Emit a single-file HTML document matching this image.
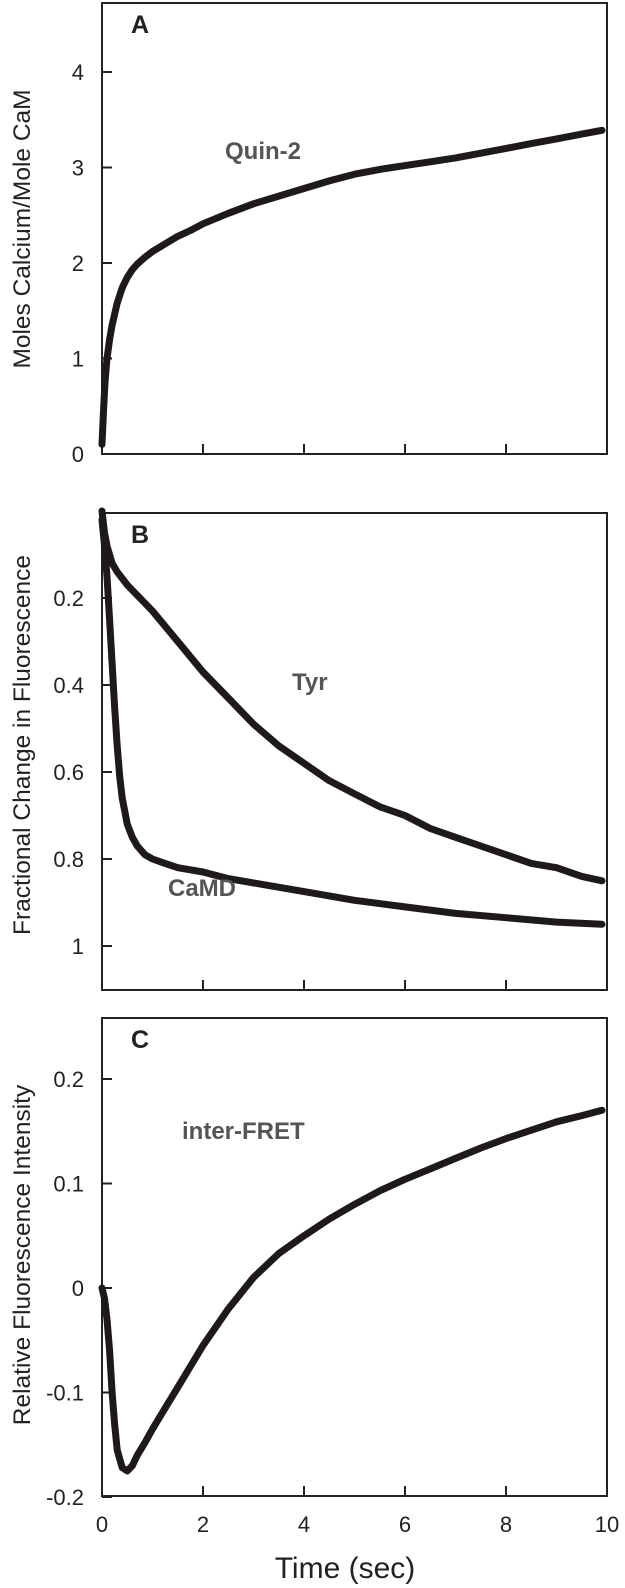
<!DOCTYPE html>
<html><head><meta charset="utf-8"><style>
body{margin:0;background:#fff}
svg{display:block;font-family:"Liberation Sans",Arial,sans-serif}
</style></head><body>
<svg id="fig" width="625" height="1588"></svg>
<script>
const xTicks=[0,2,4,6,8,10];
const xTickLabels=["0","2","4","6","8","10"];
const timeA=[0,0.03,0.06,0.1,0.15,0.2,0.3,0.4,0.5,0.6,0.7,0.85,1,1.25,1.5,1.75,2,2.5,3,3.5,4,4.5,5,5.5,6,6.5,7,7.5,8,8.5,9,9.5,9.9];
const quin2=[0.1,0.45,0.75,1.0,1.2,1.35,1.58,1.74,1.85,1.93,1.99,2.06,2.12,2.2,2.28,2.34,2.41,2.52,2.62,2.7,2.78,2.86,2.93,2.98,3.02,3.06,3.1,3.15,3.2,3.25,3.3,3.35,3.39];
const yTicksA=[0,1,2,3,4];
const timeB=[0,0.05,0.1,0.2,0.3,0.5,0.75,1,1.5,2,2.5,3,3.5,4,4.5,5,5.5,6,6.5,7,7.5,8,8.5,9,9.5,9.9];
const tyr=[0.0,0.05,0.08,0.12,0.14,0.17,0.2,0.23,0.3,0.37,0.43,0.49,0.54,0.58,0.62,0.65,0.68,0.7,0.73,0.75,0.77,0.79,0.81,0.82,0.84,0.85];
const timeCaMD=[0,0.05,0.1,0.15,0.2,0.25,0.3,0.35,0.4,0.5,0.6,0.7,0.85,1,1.25,1.5,2,2.5,3,4,5,6,7,8,9,9.9];
const camd=[0.02,0.08,0.15,0.25,0.35,0.45,0.54,0.61,0.66,0.72,0.75,0.77,0.79,0.8,0.81,0.82,0.83,0.845,0.855,0.875,0.895,0.91,0.925,0.935,0.945,0.95];
const yTicksB=[0.2,0.4,0.6,0.8,1];
const yTickLabelsB=["0.2","0.4","0.6","0.8","1"];
const timeC=[0,0.05,0.1,0.15,0.2,0.25,0.3,0.4,0.5,0.6,0.7,0.85,1,1.25,1.5,2,2.5,3,3.5,4,4.5,5,5.5,6,6.5,7,7.5,8,8.5,9,9.5,9.9];
const fret=[0,-0.01,-0.03,-0.06,-0.1,-0.13,-0.155,-0.172,-0.175,-0.17,-0.16,-0.148,-0.135,-0.115,-0.095,-0.055,-0.02,0.01,0.033,0.05,0.066,0.08,0.093,0.104,0.114,0.124,0.134,0.143,0.151,0.159,0.165,0.17];
const yTicksC=[-0.2,-0.1,0,0.1,0.2];
const yTickLabelsC=["-0.2","-0.1","0","0.1","0.2"];

const NS="http://www.w3.org/2000/svg";
const svg=document.getElementById('fig');
function mk(tag,attrs,parent){const e=document.createElementNS(NS,tag);for(const k in attrs)e.setAttribute(k,attrs[k]);(parent||svg).appendChild(e);return e;}
const X0=102,X1=607;
const xs=t=>X0+(t/10)*(X1-X0);

function panel(id,top,bottom,yFn,yTicks,yLabels,title,titleY,letter){
  const g=mk('g',{});
  
  
  const r=mk('rect',{x:X0,y:top,width:X1-X0,height:bottom-top,fill:'none',stroke:'#222','stroke-width':2},g);
  
  
  xTicks.forEach((t,i)=>{
    if(i===0||i===xTicks.length-1)return;
    const l=mk('line',{x1:xs(t),x2:xs(t),y1:bottom,y2:bottom-10,stroke:'#222','stroke-width':2},g);
    
    
  });
  yTicks.forEach((v,i)=>{
    const y=yFn(v);
    const l=mk('line',{x1:X0,x2:X0+10,y1:y,y2:y,stroke:'#222','stroke-width':2},g);
    
    
    const tx=mk('text',{x:84,y:y+8,'text-anchor':'end','font-size':22,fill:'#222'},g);
    tx.textContent=yLabels[i];
    
    
  });
  const tt=mk('text',{x:0,y:0,'text-anchor':'middle','font-size':24.5,fill:'#222',transform:`translate(30,${titleY}) rotate(-90)`},g);
  tt.textContent=title;
  
  
  const lt=mk('text',{x:131,y:top+30,'font-size':25,'font-weight':'bold',fill:'#222'},g);
  lt.textContent=letter;
  
  
  return g;
}
function series(g,ts,vs,yFn,name){
  const d=ts.map((t,i)=>(i?'L':'M')+xs(t).toFixed(1)+','+yFn(vs[i]).toFixed(1)).join(' ');
  const p=mk('path',{d:d,fill:'none',stroke:'#1e1a1a','stroke-width':7,'stroke-linejoin':'round','stroke-linecap':'round'},g);
  
  
}
function label(g,x,y,txt,name){
  const t=mk('text',{x:x,y:y,'font-size':24,'font-weight':'bold',fill:'#555'},g);
  t.textContent=txt;
  
  
}
const yA=v=>454-v*95.5;
const gA=panel('a',3,454,yA,yTicksA,yTicksA.map(String),'Moles Calcium/Mole CaM',229,'A');
series(gA,timeA,quin2,yA,'quin2-curve');
label(gA,225,159,'Quin-2','quin2-label');
const yB=v=>511+v*435;
const gB=panel('b',513,990,yB,yTicksB,yTickLabelsB,'Fractional Change in Fluorescence',745,'B');
series(gB,timeB,tyr,yB,'tyr-curve');
series(gB,timeCaMD,camd,yB,'camd-curve');
label(gB,292,690,'Tyr','tyr-label');
label(gB,168,896,'CaMD','camd-label');
const yC=v=>1288-v*1045;
const gC=panel('c',1018,1496,yC,yTicksC,yTickLabelsC,'Relative Fluorescence Intensity',1255,'C');
series(gC,timeC,fret,yC,'inter-fret-curve');
label(gC,182,1139,'inter-FRET','inter-fret-label');
xTicks.forEach((t,i)=>{
  const tx=mk('text',{x:xs(t),y:1532,'text-anchor':'middle','font-size':22,fill:'#222'});
  tx.textContent=xTickLabels[i];
  
  
});
const xt=mk('text',{x:345,y:1578,'text-anchor':'middle','font-size':30,fill:'#222'});
xt.textContent='Time (sec)';


</script>
</body></html>
